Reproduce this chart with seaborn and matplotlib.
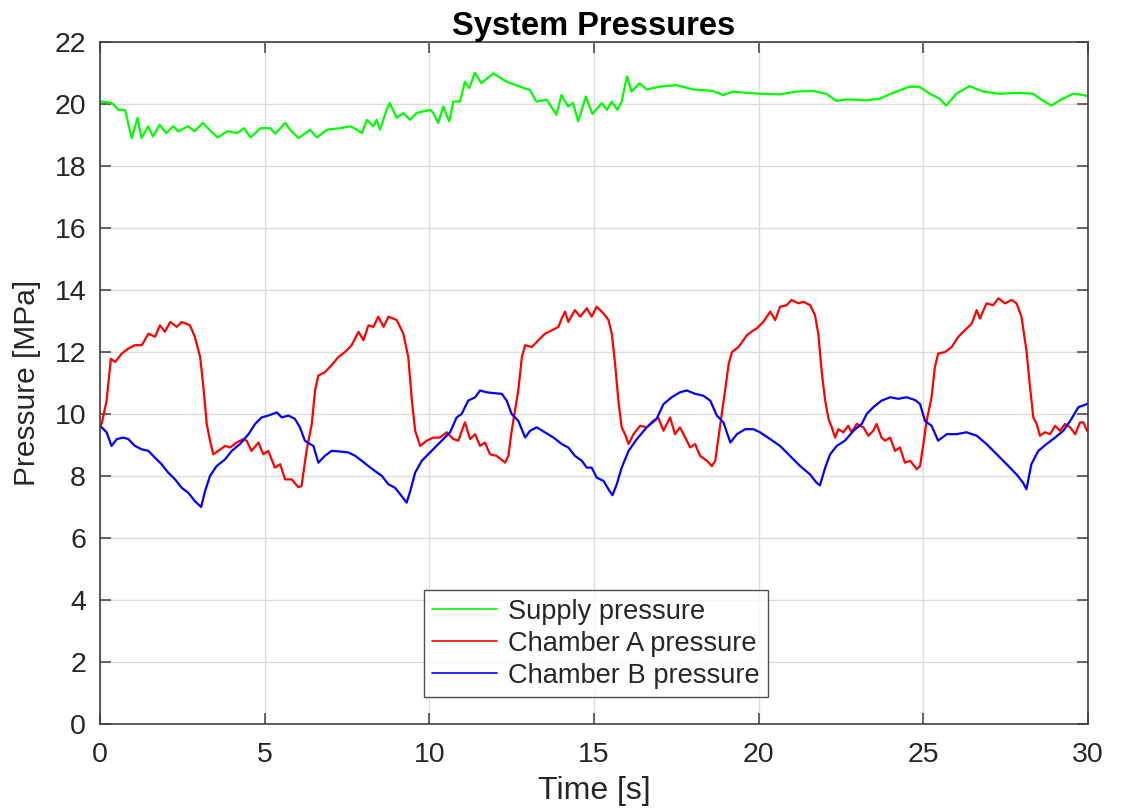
import numpy as np
import pandas as pd
import matplotlib
matplotlib.use("Agg")
import matplotlib.pyplot as plt
import seaborn as sns

# ---------------- data ----------------
supply_t = [0.0, 0.05, 0.36, 0.56, 0.76, 0.96, 1.14, 1.26, 1.46, 1.61, 1.81, 2.01, 2.22, 2.37,
            2.67, 2.87, 3.12, 3.32, 3.57, 3.87, 4.17, 4.37, 4.57, 4.87, 5.17, 5.32, 5.62, 5.77,
            6.03, 6.38, 6.58, 6.89, 7.29, 7.60, 7.80, 7.95, 8.10, 8.30, 8.40, 8.50, 8.70, 8.80,
            9.01, 9.21, 9.41, 9.61, 9.81, 10.02, 10.12, 10.27, 10.42, 10.60, 10.73, 10.93, 11.08,
            11.21, 11.38, 11.58, 11.94, 12.34, 12.75, 13.05, 13.25, 13.56, 13.86, 14.01, 14.21,
            14.36, 14.52, 14.75, 14.95, 15.24, 15.39, 15.54, 15.71, 15.84, 16.0, 16.14, 16.38,
            16.60, 17.0, 17.5, 18.0, 18.61, 18.92, 19.22, 19.62, 20.03, 20.64, 21.14, 21.65,
            22.05, 22.36, 22.66, 23.27, 23.67, 24.08, 24.58, 24.88, 25.19, 25.49, 25.69, 26.0,
            26.40, 26.81, 27.32, 27.93, 28.33, 28.64, 28.89, 29.19, 29.55, 29.85, 30.0]
supply_p = [20.05, 20.08, 20.03, 19.81, 19.81, 18.90, 19.55, 18.90, 19.28, 18.95, 19.33, 19.06,
            19.28, 19.12, 19.28, 19.12, 19.39, 19.17, 18.92, 19.12, 19.06, 19.22, 18.92, 19.22,
            19.22, 19.04, 19.39, 19.17, 18.90, 19.17, 18.92, 19.17, 19.22, 19.28, 19.17, 19.06,
            19.49, 19.28, 19.49, 19.17, 19.81, 20.03, 19.55, 19.71, 19.49, 19.71, 19.76, 19.81,
            19.71, 19.39, 19.92, 19.44, 20.08, 20.08, 20.72, 20.51, 21.01, 20.67, 20.99, 20.72,
            20.56, 20.45, 20.08, 20.14, 19.65, 20.29, 19.92, 20.03, 19.44, 20.24, 19.68, 20.03,
            19.81, 20.08, 19.81, 20.08, 20.89, 20.40, 20.67, 20.47, 20.56, 20.61, 20.47, 20.42,
            20.29, 20.40, 20.36, 20.33, 20.31, 20.40, 20.42, 20.33, 20.10, 20.15, 20.12, 20.17,
            20.36, 20.56, 20.56, 20.33, 20.17, 19.95, 20.33, 20.58, 20.40, 20.33, 20.36, 20.33,
            20.10, 19.95, 20.15, 20.33, 20.29, 20.25]

chamber_a_t = [0.0, 0.05, 0.2, 0.33, 0.46, 0.66, 0.86, 1.06, 1.27, 1.47, 1.67, 1.82, 1.97, 2.13,
               2.33, 2.48, 2.73, 2.88, 3.04, 3.14, 3.24, 3.34, 3.44, 3.59, 3.80, 3.95, 4.15, 4.35,
               4.45, 4.60, 4.81, 4.96, 5.11, 5.31, 5.47, 5.62, 5.82, 6.02, 6.12, 6.27, 6.43, 6.53,
               6.63, 6.83, 7.03, 7.24, 7.44, 7.64, 7.85, 8.00, 8.15, 8.30, 8.45, 8.61, 8.76, 9.01,
               9.21, 9.36, 9.47, 9.57, 9.72, 9.92, 10.12, 10.32, 10.53, 10.73, 10.88, 11.08, 11.24,
               11.39, 11.54, 11.69, 11.84, 12.04, 12.30, 12.40, 12.50, 12.60, 12.70, 12.81, 12.91,
               13.11, 13.31, 13.51, 13.72, 13.92, 14.02, 14.12, 14.22, 14.42, 14.58, 14.78, 14.93,
               15.08, 15.29, 15.44, 15.54, 15.64, 15.74, 15.84, 15.94, 16.05, 16.20, 16.40, 16.60,
               16.80, 16.95, 17.11, 17.31, 17.46, 17.61, 17.77, 17.92, 18.07, 18.22, 18.43, 18.58,
               18.68, 18.78, 18.88, 18.98, 19.09, 19.19, 19.39, 19.64, 19.84, 19.94, 20.14, 20.35,
               20.50, 20.65, 20.85, 21.0, 21.21, 21.36, 21.56, 21.71, 21.81, 21.92, 22.02, 22.12,
               22.22, 22.32, 22.42, 22.57, 22.72, 22.82, 22.98, 23.18, 23.33, 23.48, 23.58, 23.73,
               23.84, 23.99, 24.14, 24.29, 24.44, 24.60, 24.80, 24.90, 25.0, 25.10, 25.25, 25.35,
               25.45, 25.66, 25.86, 26.06, 26.26, 26.47, 26.62, 26.72, 26.92, 27.12, 27.28, 27.48,
               27.68, 27.83, 27.98, 28.13, 28.24, 28.34, 28.44, 28.54, 28.69, 28.85, 29.0, 29.15,
               29.30, 29.46, 29.61, 29.76, 29.86, 29.97, 30.0]
chamber_a_p = [9.6, 9.68, 10.43, 11.78, 11.68, 11.95, 12.11, 12.22, 12.22, 12.59, 12.49, 12.86,
               12.65, 12.97, 12.81, 12.97, 12.86, 12.49, 11.84, 10.86, 9.68, 9.14, 8.70, 8.81,
               8.97, 8.92, 9.08, 9.19, 9.14, 8.81, 9.08, 8.70, 8.81, 8.27, 8.38, 7.89, 7.89, 7.64,
               7.68, 8.81, 9.68, 10.76, 11.24, 11.35, 11.57, 11.84, 12.0, 12.22, 12.65, 12.38,
               12.86, 12.81, 13.14, 12.81, 13.14, 13.03, 12.59, 11.84, 10.43, 9.46, 8.97, 9.14,
               9.24, 9.24, 9.41, 9.19, 9.14, 9.73, 9.19, 9.35, 8.97, 9.08, 8.70, 8.65, 8.43, 8.65,
               9.46, 10.11, 10.76, 11.84, 12.22, 12.16, 12.38, 12.59, 12.70, 12.81, 13.08, 13.30,
               12.97, 13.35, 13.14, 13.41, 13.14, 13.46, 13.24, 13.03, 12.59, 11.62, 10.43, 9.57,
               9.35, 9.03, 9.35, 9.62, 9.57, 9.78, 9.89, 9.46, 9.89, 9.35, 9.57, 9.24, 8.92, 9.03,
               8.65, 8.49, 8.32, 8.49, 9.24, 10.0, 10.76, 11.62, 12.0, 12.16, 12.54, 12.70, 12.76,
               12.97, 13.30, 13.03, 13.46, 13.51, 13.68, 13.57, 13.62, 13.51, 13.19, 12.59, 11.30,
               10.43, 9.84, 9.57, 9.24, 9.51, 9.41, 9.62, 9.41, 9.68, 9.57, 9.30, 9.46, 9.68, 9.24,
               9.14, 9.24, 8.81, 8.92, 8.43, 8.49, 8.22, 8.32, 9.03, 9.78, 10.54, 11.51, 11.95,
               12.0, 12.16, 12.49, 12.70, 12.92, 13.35, 13.08, 13.57, 13.51, 13.73, 13.57, 13.68,
               13.57, 13.14, 12.05, 10.86, 9.89, 9.68, 9.30, 9.41, 9.35, 9.62, 9.46, 9.68, 9.57,
               9.35, 9.73, 9.73, 9.46, 9.45]

chamber_b_t = [0.0, 0.05, 0.2, 0.35, 0.51, 0.71, 0.86, 1.06, 1.27, 1.47, 1.67, 1.87, 2.07, 2.28,
               2.48, 2.68, 2.88, 3.07, 3.19, 3.34, 3.54, 3.80, 4.0, 4.25, 4.51, 4.71, 4.91, 5.11,
               5.37, 5.52, 5.72, 5.92, 6.07, 6.22, 6.38, 6.48, 6.63, 6.83, 7.03, 7.29, 7.54, 7.75,
               7.95, 8.15, 8.35, 8.56, 8.76, 8.96, 9.16, 9.31, 9.42, 9.57, 9.77, 10.02, 10.32,
               10.63, 10.83, 10.98, 11.18, 11.39, 11.54, 11.74, 11.99, 12.20, 12.35, 12.50, 12.70,
               12.91, 13.06, 13.26, 13.51, 13.77, 14.02, 14.22, 14.42, 14.63, 14.78, 14.93, 15.08,
               15.29, 15.44, 15.56, 15.69, 15.84, 16.05, 16.30, 16.60, 16.90, 17.11, 17.36, 17.61,
               17.82, 18.07, 18.32, 18.53, 18.73, 18.93, 19.14, 19.34, 19.59, 19.84, 20.04, 20.35,
               20.65, 20.95, 21.26, 21.56, 21.76, 21.86, 22.02, 22.17, 22.37, 22.62, 22.88, 23.13,
               23.28, 23.48, 23.73, 23.99, 24.24, 24.49, 24.75, 24.90, 25.05, 25.25, 25.45, 25.71,
               26.01, 26.31, 26.62, 26.92, 27.23, 27.53, 27.83, 28.03, 28.13, 28.28, 28.49, 28.74,
               29.0, 29.25, 29.46, 29.71, 29.97, 30.0]
chamber_b_p = [9.6, 9.57, 9.41, 8.97, 9.19, 9.24, 9.19, 8.97, 8.86, 8.81, 8.59, 8.38, 8.11, 7.89,
               7.62, 7.46, 7.19, 7.0, 7.51, 8.0, 8.32, 8.54, 8.81, 9.03, 9.35, 9.68, 9.89, 9.95,
               10.05, 9.89, 9.95, 9.84, 9.57, 9.14, 9.03, 8.97, 8.43, 8.65, 8.81, 8.79, 8.76, 8.65,
               8.49, 8.32, 8.16, 8.0, 7.73, 7.62, 7.35, 7.14, 7.51, 8.11, 8.49, 8.76, 9.08, 9.41,
               9.89, 10.0, 10.43, 10.54, 10.76, 10.70, 10.67, 10.65, 10.43, 10.0, 9.78, 9.24, 9.46,
               9.57, 9.41, 9.24, 9.03, 8.92, 8.65, 8.49, 8.27, 8.27, 7.95, 7.84, 7.57, 7.38, 7.73,
               8.27, 8.81, 9.19, 9.57, 9.84, 10.32, 10.54, 10.70, 10.76, 10.65, 10.59, 10.43, 9.95,
               9.73, 9.08, 9.35, 9.51, 9.51, 9.41, 9.19, 8.97, 8.65, 8.32, 8.05, 7.78, 7.70, 8.27,
               8.70, 8.97, 9.14, 9.46, 9.68, 10.0, 10.22, 10.43, 10.54, 10.49, 10.54, 10.45, 10.32,
               9.78, 9.62, 9.14, 9.35, 9.35, 9.41, 9.30, 9.03, 8.70, 8.38, 8.05, 7.78, 7.57, 8.38,
               8.81, 9.03, 9.24, 9.46, 9.78, 10.22, 10.32, 10.35]

series_labels = ["Supply pressure", "Chamber A pressure", "Chamber B pressure"]
series_colors = ["#00ff00", "#ff0000", "#0000ff"]
x_ticks = [0, 5, 10, 15, 20, 25, 30]
y_ticks = list(range(0, 23, 2))

# ---------------- plot ----------------
sns.set_theme(style="white")
plt.rcParams["font.family"] = ["Liberation Sans", "DejaVu Sans"]
text_col = "#262626"
frame_col = "#404040"

fig = plt.figure(figsize=(11.22, 8.09), dpi=100)
ax = fig.add_axes([100 / 1122, 1 - 724 / 809, 988 / 1122, 682 / 809])

frames = [
    pd.DataFrame({"t": supply_t, "p": supply_p}),
    pd.DataFrame({"t": chamber_a_t, "p": chamber_a_p}),
    pd.DataFrame({"t": chamber_b_t, "p": chamber_b_p}),
]
for df, lab, col in zip(frames, series_labels, series_colors):
    sns.lineplot(data=df, x="t", y="p", ax=ax, color=col, label=lab,
                 linewidth=1.6, estimator=None, sort=False)

ax.set_xlim(0, 30)
ax.set_ylim(0, 22)
ax.set_xticks(x_ticks)
ax.set_yticks(y_ticks)
ax.grid(True, color="#dcdcdc", linewidth=1.0)
ax.set_axisbelow(True)
for s in ax.spines.values():
    s.set_color(frame_col)
    s.set_linewidth(1.2)
ax.tick_params(direction="in", length=8, width=1.1, color=frame_col,
               labelsize=20.5, labelcolor=text_col, top=True, right=True,
               bottom=True, left=True)
ax.tick_params(axis="x", pad=13)
ax.tick_params(axis="y", pad=10)
ax.set_xlabel("Time [s]", fontsize=23, color=text_col, labelpad=6)
ax.set_ylabel("Pressure [MPa]", fontsize=21.5, color=text_col, labelpad=10)
ax.set_title("System Pressures", fontsize=23.5, fontweight="bold", color="black", pad=5)

leg = ax.legend(loc="lower center", bbox_to_anchor=(0.502, 0.04), fontsize=19.6,
                frameon=True, fancybox=False, handlelength=2.4, handletextpad=0.4,
                labelspacing=0.22, borderpad=0.3, borderaxespad=0)
leg.get_frame().set_edgecolor("#262626")
leg.get_frame().set_linewidth(1.0)
for h in leg.get_lines():
    h.set_linewidth(1.2)
for t in leg.get_texts():
    t.set_color(text_col)

fig.savefig("out.png", dpi=100)
